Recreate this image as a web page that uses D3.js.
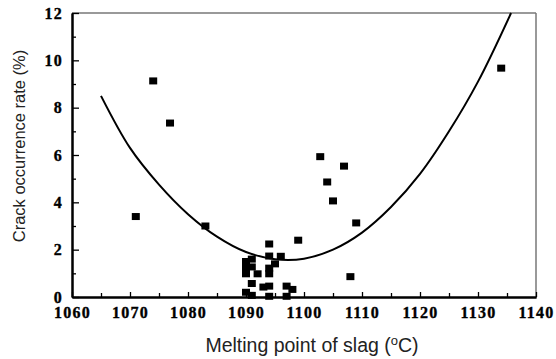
<!doctype html>
<html lang="en">

<head>
  <meta charset="UTF-8">
  <title>Crack occurrence rate vs melting point of slag</title>
  <script type="text/javascript" src="https://cdn.jsdelivr.net/npm/d3@7/dist/d3.min.js"></script>
  <style>
    body {
      margin: 0;
      background: #fff;
    }

    .axis path,
    .axis line {
      stroke: #000;
    }

    .title {
      font-family: "Liberation Sans", Arial, sans-serif;
      fill: #222;
    }
  </style>
</head>

<body>

</body>
<script type="text/javascript">
  // measured points (melting point, crack rate)
  var meltingPoint = [1071, 1074, 1076.9, 1083, 1102.8, 1104, 1105, 1106.9, 1109, 1108, 1099, 1134,
    1094, 1094, 1096, 1095, 1091, 1090, 1091, 1090, 1090, 1092, 1094, 1094,
    1091, 1093, 1094, 1097, 1098, 1090, 1091, 1094, 1097];
  var crackRate = [3.4, 9.13, 7.35, 3.0, 5.93, 4.86, 4.06, 5.53, 3.13, 0.86, 2.4, 9.67,
    2.24, 1.73, 1.72, 1.4, 1.6, 1.5, 1.27, 1.24, 0.98, 0.98, 1.22, 0.98,
    0.57, 0.42, 0.46, 0.46, 0.32, 0.2, 0.07, 0.03, 0.03];

  // fitted curve
  var fitTemp = [1065, 1070, 1075, 1080, 1085, 1090, 1095, 1100, 1105, 1110, 1115, 1120, 1125, 1130, 1135.7];
  var fitRate = [8.5, 6.3, 4.75, 3.5, 2.55, 1.9, 1.6, 1.62, 2.0, 2.72, 3.8, 5.2, 7.0, 9.1, 12];

  var xTicks = [1060, 1070, 1080, 1090, 1100, 1110, 1120, 1130, 1140];
  var xMinor = [1065, 1075, 1085, 1095, 1105, 1115, 1125, 1135];
  var yTicks = [0, 2, 4, 6, 8, 10, 12];
  var yMinor = [1, 3, 5, 7, 9, 11];

  var margin = {
      top: 13,
      right: 20,
      bottom: 62,
      left: 72
    },
    width = 556 - margin.left - margin.right,
    height = 359 - margin.top - margin.bottom;

  var xScale = d3.scaleLinear()
    .domain([1060, 1140])
    .range([0, width]);

  var yScale = d3.scaleLinear()
    .domain([0, 12])
    .range([height, 0]);

  var svg = d3.select("body").append("svg")
    .attr("width", width + margin.left + margin.right)
    .attr("height", height + margin.top + margin.bottom)
    .append("g")
    .attr("transform", "translate(" + margin.left + "," + margin.top + ")");

  // frame: top and right thin grey
  svg.append("line")
    .attr("x1", 0).attr("y1", 0).attr("x2", width).attr("y2", 0)
    .style("stroke", "#777").style("stroke-width", 1.5);
  svg.append("line")
    .attr("x1", width).attr("y1", 0).attr("x2", width).attr("y2", height)
    .style("stroke", "#777").style("stroke-width", 1.5);

  var xAxis = d3.axisBottom(xScale)
    .tickValues(xTicks)
    .tickSizeInner(-5)
    .tickSizeOuter(0)
    .tickPadding(10)
    .tickFormat(d3.format("d"));

  var yAxis = d3.axisLeft(yScale)
    .tickValues(yTicks)
    .tickSizeInner(-7)
    .tickSizeOuter(0)
    .tickPadding(9)
    .tickFormat(d3.format("d"));

  var tickFont = "Liberation Serif, DejaVu Serif, Times New Roman, serif";

  function styleTicks(g) {
    g.attr("font-family", tickFont)
      .attr("font-weight", "bold")
      .attr("font-size", 16);
    g.selectAll("text")
      .style("font-family", tickFont)
      .style("font-weight", "bold")
      .style("font-size", "16px")
      .style("letter-spacing", "1.2px")
      .style("fill", "#000")
      .style("stroke", "#000")
      .style("stroke-width", 0.35);
  }

  svg.append("g")
    .attr("class", "x axis")
    .attr("transform", "translate(0," + height + ")")
    .call(xAxis)
    .call(styleTicks);

  svg.append("g")
    .attr("class", "x axis minor")
    .attr("transform", "translate(0," + height + ")")
    .call(d3.axisBottom(xScale).tickValues(xMinor).tickSizeInner(-4).tickSizeOuter(0).tickFormat(""));

  svg.append("g")
    .attr("class", "y axis")
    .call(yAxis)
    .call(styleTicks);

  svg.append("g")
    .attr("class", "y axis minor")
    .call(d3.axisLeft(yScale).tickValues(yMinor).tickSizeInner(-4).tickSizeOuter(0).tickFormat(""));

  svg.selectAll(".axis path").style("stroke-width", 2);
  svg.selectAll(".axis line").style("stroke-width", 1.3);

  // fitted curve
  var fitData = fitTemp.map(function(t, i) {
    return [t, fitRate[i]];
  });

  var line = d3.line()
    .x(function(d) {
      return xScale(d[0]);
    })
    .y(function(d) {
      return yScale(d[1]);
    })
    .curve(d3.curveCatmullRom);

  svg.append("path")
    .datum(fitData)
    .attr("d", line)
    .style("fill", "none")
    .style("stroke", "#000")
    .style("stroke-width", 2);

  // squares
  var points = meltingPoint.map(function(t, i) {
    return [t, crackRate[i]];
  });

  svg.selectAll("rect.pt")
    .data(points)
    .enter().append("rect")
    .attr("class", "pt")
    .attr("x", function(d) {
      return xScale(d[0]) - 4;
    })
    .attr("y", function(d) {
      return yScale(d[1]) - 3.5;
    })
    .attr("width", 8)
    .attr("height", 7)
    .style("fill", "#000");

  // titles
  var xt = svg.append("text")
    .attr("class", "title")
    .attr("x", 312 - margin.left)
    .attr("y", height + 55)
    .attr("text-anchor", "middle")
    .style("font-size", "19.5px");
  xt.append("tspan").text("Melting point of slag (");
  xt.append("tspan").attr("dy", -7).style("font-size", "13px").text("o");
  xt.append("tspan").attr("dy", 7).text("C)");

  svg.append("text")
    .attr("class", "title")
    .attr("transform", "translate(" + (-47) + "," + (146 - margin.top) + ") rotate(-90)")
    .attr("text-anchor", "middle")
    .style("font-size", "16.5px")
    .text("Crack occurrence rate (%)");
</script>

</html>
